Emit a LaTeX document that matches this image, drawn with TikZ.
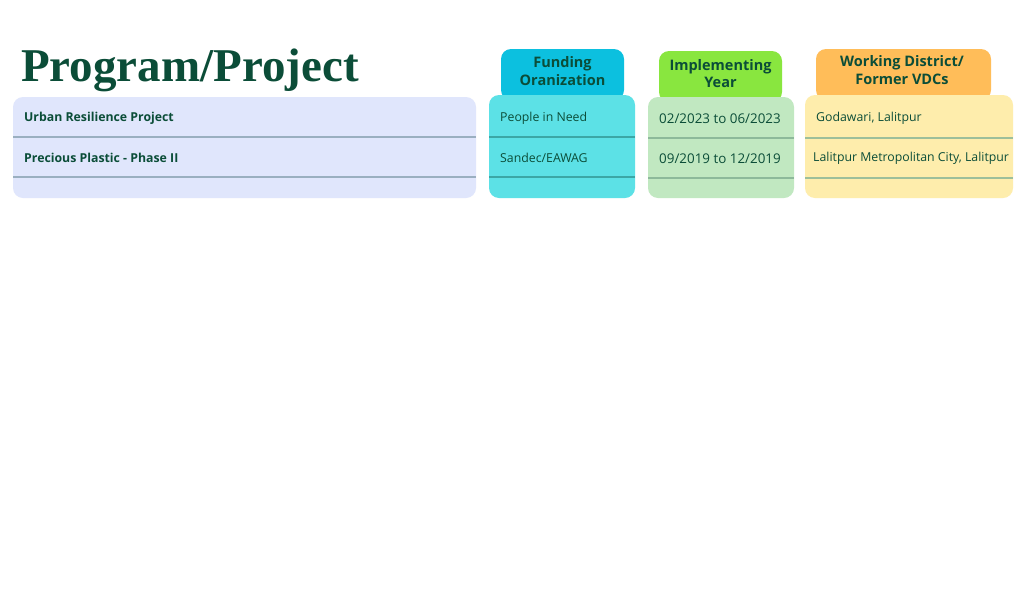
\documentclass[tikz,border=0pt]{standalone}
\usepackage{fontspec}
\setmainfont{Open Sans}
\newfontfamily\titlefont{Liberation Serif}
\definecolor{dkgreen}{HTML}{0B4D38}
\definecolor{projfill}{HTML}{E0E6FC}
\definecolor{projline}{HTML}{9AAFC0}
\definecolor{fundhead}{HTML}{0CC0DF}
\definecolor{fundfill}{HTML}{5CE1E6}
\definecolor{fundline}{HTML}{3BA7A6}
\definecolor{implhead}{HTML}{89E63F}
\definecolor{implfill}{HTML}{C1E8C1}
\definecolor{implline}{HTML}{8DB99A}
\definecolor{workhead}{HTML}{FFBD59}
\definecolor{workfill}{HTML}{FEEDAC}
\definecolor{workline}{HTML}{9DBF9A}
\begin{document}
\begin{tikzpicture}[x=1pt,y=-1pt,
  cell/.style={font=\fontsize{12.3}{14}\selectfont, text=dkgreen, inner sep=0pt},
  headtext/.style={font=\fontsize{14.5}{17.5}\selectfont\bfseries, text=dkgreen, align=center, inner sep=0pt},
  sep/.style={line width=1.2pt}]
\useasboundingbox[fill=white] (0,0) rectangle (1024,600);
% title
\node[anchor=base west, inner sep=0pt, text=dkgreen, font=\titlefont\fontsize{47}{52}\selectfont\bfseries] (title) at (21,81) {Program/Project};
% project box
\fill[projfill, rounded corners=10pt] (13,97) rectangle (476,198);
\draw[sep, projline] (13,137) -- (476,137);
\draw[sep, projline] (13,177) -- (476,177);
\node[cell, anchor=west, font=\fontsize{12.3}{14}\selectfont\bfseries] (p1) at (24,118) {Urban Resilience Project};
\node[cell, anchor=west, font=\fontsize{12.3}{14}\selectfont\bfseries] (p2) at (24,158) {Precious Plastic - Phase II};
% funding
\fill[fundhead, rounded corners=10pt] (501,100) -- (501,49) -- (624,49) -- (624,100) -- cycle;
\node[headtext] (fh) at (562.5,71) {Funding\\Oranization};
\fill[fundfill, rounded corners=10pt] (489,95) rectangle (635,198);
\draw[sep, fundline] (489,137) -- (635,137);
\draw[sep, fundline] (489,177) -- (635,177);
\node[cell, anchor=west] (f1) at (500,118) {People in Need};
\node[cell, anchor=west] (f2) at (500,158) {Sandec/EAWAG};
% implementing
\fill[implhead, rounded corners=10pt] (659,102) -- (659,51) -- (782,51) -- (782,102) -- cycle;
\node[headtext] (ih) at (720.5,73.5) {Implementing\\Year};
\fill[implfill, rounded corners=10pt] (648,97) rectangle (794,198);
\draw[sep, implline] (648,138) -- (794,138);
\draw[sep, implline] (648,178) -- (794,178);
\node[cell, font=\fontsize{13.4}{15}\selectfont] (i1) at (720,119) {02/2023 to 06/2023};
\node[cell, font=\fontsize{13.4}{15}\selectfont] (i2) at (720,159) {09/2019 to 12/2019};
% working
\fill[workhead, rounded corners=10pt] (816,100) -- (816,49) -- (991,49) -- (991,100) -- cycle;
\node[headtext] (wh) at (902,70) {Working District/\\Former VDCs};
\fill[workfill, rounded corners=10pt] (805,95) rectangle (1013,198);
\draw[sep, workline] (805,138) -- (1013,138);
\draw[sep, workline] (805,178) -- (1013,178);
\node[cell, anchor=west] (w1) at (816,118) {Godawari, Lalitpur};
\node[cell, anchor=west] (w2) at (813,158) {Lalitpur Metropolitan City, Lalitpur};
\end{tikzpicture}
\end{document}
